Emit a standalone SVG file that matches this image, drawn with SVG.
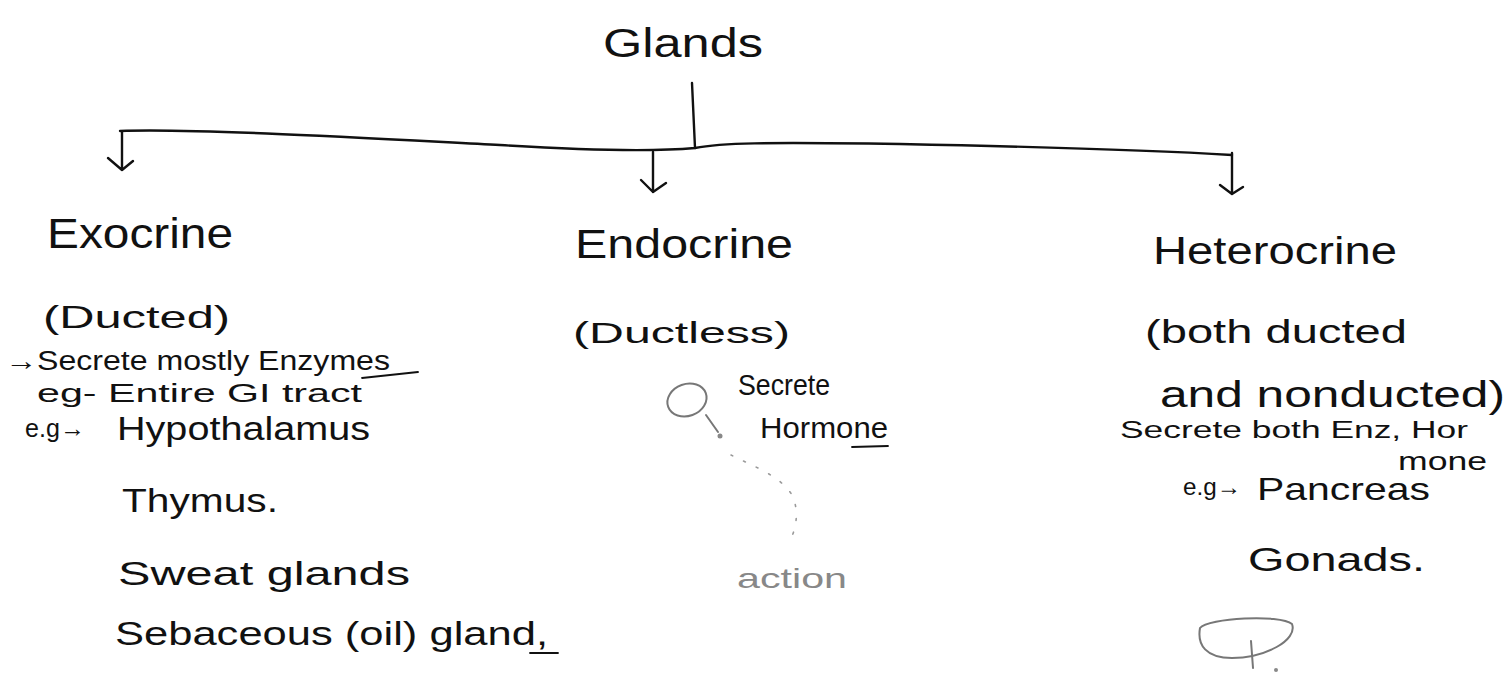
<svg xmlns="http://www.w3.org/2000/svg" width="1510" height="674" viewBox="0 0 1510 674">
<style>
  text { font-family: "Liberation Sans", "DejaVu Sans", sans-serif; fill: #111; }
  .ink { fill: none; stroke: #111; stroke-width: 2.4; stroke-linecap: round; stroke-linejoin: round; }
  .thin { fill: none; stroke: #111; stroke-width: 1.8; stroke-linecap: round; }
  .pencil { fill: none; stroke: #777; stroke-width: 2; stroke-linecap: round; }
  .dots { fill: none; stroke: #999; stroke-width: 1.6; stroke-linecap: round; stroke-dasharray: 2 12; }
  .faint { fill: #888; }
</style>
<rect width="1510" height="674" fill="#fff"/>

<g id="connectors">
  <path class="ink" d="M692,83 L695,148"/>
  <path class="ink" d="M120,131 C200,128 400,140 500,145 C580,150 650,152 695,148 C720,143 760,142 900,144 C1050,147 1150,150 1232,155"/>
  <path class="ink" d="M122,132 L122,170 M108,158 L122,170 L133,161"/>
  <path class="ink" d="M653,152 L653,192 M641,180 L653,192 L666,183"/>
  <path class="ink" d="M1232,153 L1232,193 M1220,185 L1232,194 L1243,187"/>
</g>

<g id="node-glands">
  <text x="603" y="57" font-size="40" textLength="160" lengthAdjust="spacingAndGlyphs">Glands</text>
</g>

<g id="node-exocrine">
  <text x="47" y="248" font-size="42" textLength="186" lengthAdjust="spacingAndGlyphs">Exocrine</text>
  <text x="43" y="328" font-size="32" textLength="187" lengthAdjust="spacingAndGlyphs">(Ducted)</text>
  <text x="5" y="370" font-size="27" textLength="385" lengthAdjust="spacingAndGlyphs">→Secrete mostly Enzymes</text>
  <path class="thin" d="M362,378 L418,372"/>
  <text x="37" y="402" font-size="25" textLength="325" lengthAdjust="spacingAndGlyphs">eg- Entire GI tract</text>
  <text x="25" y="437" font-size="25" textLength="60" lengthAdjust="spacingAndGlyphs">e.g→</text>
  <text x="117" y="440" font-size="33" textLength="253" lengthAdjust="spacingAndGlyphs">Hypothalamus</text>
  <text x="122" y="512" font-size="34" textLength="156" lengthAdjust="spacingAndGlyphs">Thymus.</text>
  <text x="118" y="585" font-size="34" textLength="292" lengthAdjust="spacingAndGlyphs">Sweat glands</text>
  <text x="115" y="645" font-size="34" textLength="433" lengthAdjust="spacingAndGlyphs">Sebaceous (oil) gland,</text>
  <path class="thin" d="M530,653 L558,653"/>
</g>

<g id="node-endocrine">
  <text x="575" y="258" font-size="40" textLength="218" lengthAdjust="spacingAndGlyphs">Endocrine</text>
  <text x="573" y="343" font-size="30" textLength="217" lengthAdjust="spacingAndGlyphs">(Ductless)</text>
  <ellipse class="pencil" cx="687" cy="400" rx="20" ry="16" transform="rotate(-20 687 400)"/>
  <path class="pencil" d="M706,415 L718,432"/>
  <circle class="faint" cx="720" cy="436" r="2.5"/>
  <path class="dots" d="M731,455 C750,465 780,475 792,495 C800,512 796,530 788,545"/>
  <text x="738" y="395" font-size="30" textLength="92" lengthAdjust="spacingAndGlyphs">Secrete</text>
  <text x="760" y="438" font-size="30" textLength="128" lengthAdjust="spacingAndGlyphs">Hormone</text>
  <path class="thin" d="M852,447 L888,446"/>
  <text x="737" y="588" font-size="28" textLength="110" lengthAdjust="spacingAndGlyphs" style="fill:#888">action</text>
</g>

<g id="node-heterocrine">
  <text x="1153" y="264" font-size="38" textLength="244" lengthAdjust="spacingAndGlyphs">Heterocrine</text>
  <text x="1145" y="343" font-size="34" textLength="262" lengthAdjust="spacingAndGlyphs">(both ducted</text>
  <text x="1160" y="407" font-size="36" textLength="345" lengthAdjust="spacingAndGlyphs">and nonducted)</text>
  <text x="1120" y="438" font-size="23" textLength="348" lengthAdjust="spacingAndGlyphs">Secrete both Enz, Hor</text>
  <text x="1398" y="470" font-size="26" textLength="89" lengthAdjust="spacingAndGlyphs">mone</text>
  <text x="1183" y="495" font-size="24" textLength="58" lengthAdjust="spacingAndGlyphs">e.g→</text>
  <text x="1257" y="500" font-size="32" textLength="173" lengthAdjust="spacingAndGlyphs">Pancreas</text>
  <text x="1248" y="571" font-size="34" textLength="177" lengthAdjust="spacingAndGlyphs">Gonads.</text>
</g>

<g id="scribble">
  <path class="pencil" d="M1200,628 C1208,618 1280,614 1292,624 C1298,640 1265,658 1232,658 C1206,658 1197,645 1200,628"/>
  <path class="pencil" d="M1251,641 L1253,668"/>
  <circle class="faint" cx="1276" cy="670" r="2"/>
</g>
</svg>
